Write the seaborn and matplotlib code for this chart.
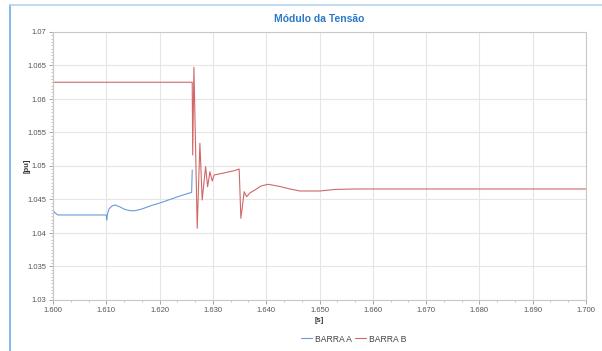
import matplotlib
matplotlib.use("Agg")
import matplotlib.pyplot as plt
from matplotlib.lines import Line2D
from matplotlib.ticker import MultipleLocator, FormatStrFormatter
import pandas as pd
import seaborn as sns

# BARRA A: voltage magnitude [pu] over time [s]
t_a = [1.6000, 1.60038, 1.60094, 1.6100, 1.61007, 1.61022, 1.6105, 1.61106,
       1.61163, 1.61238, 1.6135, 1.61444, 1.61538, 1.61669, 1.61819, 1.62006,
       1.62194, 1.62381, 1.62601, 1.62612]
v_a = [1.04343, 1.04299, 1.04269, 1.04269, 1.04194, 1.04284, 1.04358, 1.04403,
       1.04418, 1.04396, 1.04351, 1.04333, 1.04333, 1.04358, 1.04403, 1.04448,
       1.04500, 1.04552, 1.04607, 1.04940]

# BARRA B: voltage magnitude [pu] over time [s]
t_b = [1.6000, 1.62612, 1.62621, 1.62644, 1.62706, 1.62756, 1.62799, 1.62863,
       1.62901, 1.62944, 1.62987, 1.63024, 1.6320, 1.6340, 1.63493, 1.63525,
       1.63587, 1.63632, 1.63694, 1.63788, 1.6390, 1.64037, 1.64257, 1.64444,
       1.64632, 1.6501, 1.6529, 1.6566, 1.7000]
v_b = [1.0625, 1.0625, 1.05164, 1.06473, 1.04070, 1.05339, 1.04493, 1.04990,
       1.04691, 1.04915, 1.04776, 1.04866, 1.04895, 1.04930, 1.04955, 1.04219,
       1.04616, 1.04542, 1.04597, 1.04642, 1.04701, 1.04727, 1.04694, 1.04657,
       1.04627, 1.04627, 1.04650, 1.04657, 1.04657]

series_names = ["BARRA A", "BARRA B"]
colors = ["#6a9bd8", "#d06868"]

df = pd.concat([
    pd.DataFrame({"t": t_a, "v": v_a, "barra": series_names[0]}),
    pd.DataFrame({"t": t_b, "v": v_b, "barra": series_names[1]}),
], ignore_index=True)

sns.set_style("white")
plt.rcParams["font.family"] = ["Liberation Sans", "DejaVu Sans"]

fig = plt.figure(figsize=(6.02, 3.51), dpi=100)
ax = fig.add_axes([53 / 602, 1 - 300 / 351, (586 - 53) / 602, (300 - 32) / 351])

sns.lineplot(data=df, x="t", y="v", hue="barra", palette=colors,
             hue_order=series_names, sort=False, estimator=None,
             linewidth=0.8, ax=ax, legend=False)

ax.set_xlim(1.600, 1.700)
ax.set_ylim(1.03, 1.07)
ax.xaxis.set_major_locator(MultipleLocator(0.01))
ax.xaxis.set_minor_locator(MultipleLocator(0.01 / 3))
ax.yaxis.set_major_locator(MultipleLocator(0.005))
ax.yaxis.set_minor_locator(MultipleLocator(0.0005))
ax.xaxis.set_major_formatter(FormatStrFormatter("%.3f"))
ax.yaxis.set_major_formatter(lambda v, p: f"{v:.3f}".rstrip("0").rstrip("."))

ax.grid(True, which="major", color="#e6e6e6", linewidth=0.8)
for s in ax.spines.values():
    s.set_color("#c8c8c8")
    s.set_linewidth(0.8)
ax.tick_params(which="major", length=3, width=0.6, color="#999999",
               labelsize=5.5, labelcolor="#555555", pad=2, left=True, bottom=True)
ax.tick_params(which="minor", length=1.5, width=0.5, color="#aaaaaa",
               left=True, bottom=True)

ax.set_title("Módulo da Tensão", fontsize=7.5, fontweight="bold",
             color="#2a7ac8", pad=7)
ax.set_xlabel("[s]", fontsize=5.5, fontweight="bold", color="#333333", labelpad=2)
ax.set_ylabel("[pu]", fontsize=5.5, fontweight="bold", color="#333333")
ax.yaxis.set_label_coords((31 - 53) / (586 - 53), 0.5)

handles = [Line2D([], [], color=c, linewidth=0.8) for c in colors]
fig.legend(handles, series_names, loc="center", bbox_to_anchor=(354 / 602, 1 - 339 / 351),
           ncol=2, frameon=False, fontsize=6.2, handlelength=1.2, handletextpad=0.4,
           columnspacing=0.4, labelcolor="#444444")

# panel border
fig.add_artist(Line2D([10 / 602, 10 / 602], [0, 1 - 5 / 351], transform=fig.transFigure,
                      color="#6aaee8", linewidth=1.2))
fig.add_artist(Line2D([10 / 602, 1], [1 - 5 / 351, 1 - 5 / 351], transform=fig.transFigure,
                      color="#b8d4ec", linewidth=1.2))

fig.savefig("out.png", dpi=100)
